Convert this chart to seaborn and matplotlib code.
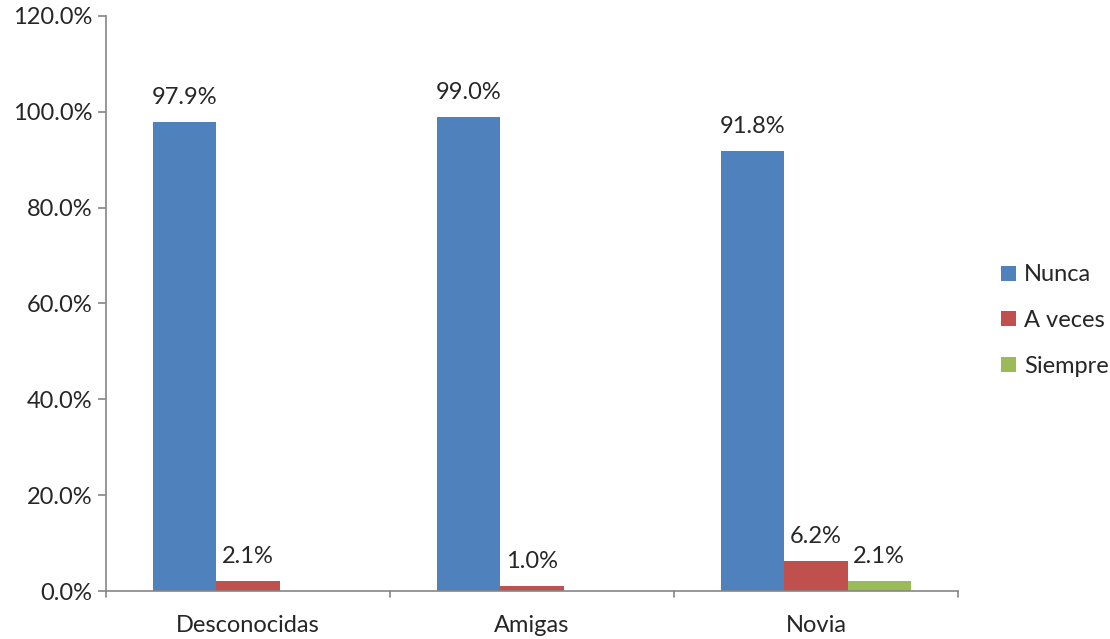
import numpy as np
import pandas as pd
import matplotlib
matplotlib.use('Agg')
import matplotlib.pyplot as plt
import seaborn as sns

# data
categories = ['Desconocidas', 'Amigas', 'Novia']
series = ['Nunca', 'A veces', 'Siempre']
nunca = [97.9, 99.0, 91.8]
a_veces = [2.1, 1.0, 6.2]
siempre = [0.0, 0.0, 2.1]
colors = ['#4F81BD', '#C0504D', '#9BBB59']
yticks = [0, 20, 40, 60, 80, 100, 120]

df = pd.DataFrame({
	'categoria': categories * 3,
	'serie': [s for s in series for _ in categories],
	'valor': nunca + a_veces + siempre,
})

sns.set_style('white')
plt.rcParams['font.family'] = ['Lato', 'DejaVu Sans']

fig = plt.figure(figsize=(11.1, 6.39), dpi=100)
ax = fig.add_axes([0.0955, 0.0751, 0.7675, 0.8999])

sns.barplot(data=df, x='categoria', y='valor', hue='serie', order=categories,
			hue_order=series, palette=colors, width=0.667, saturation=1,
			linewidth=0, ax=ax)

# data labels, skip empty bars
for cont in ax.containers:
	labels = ['%.1f%%' % v if v > 0 else '' for v in cont.datavalues]
	ax.bar_label(cont, labels=labels, padding=10, fontsize=17)

ax.set_ylim(0, 120)
ax.set_xlim(-0.5, 2.5)
ax.set_yticks(yticks)
ax.set_yticklabels(['%.1f%%' % t for t in yticks], fontsize=17)
ax.tick_params(axis='x', labelsize=17, length=0, pad=17)
ax.tick_params(axis='y', length=6, width=1.2, color='#868686', left=True, pad=4)
ax.set_xlabel('')
ax.set_ylabel('')

# category boundary ticks under the axis
for xb in [-0.5, 0.5, 1.5, 2.5]:
	ax.plot([xb, xb], [0, -1.2], color='#868686', lw=1.2, clip_on=False)

for side in ['top', 'right']:
	ax.spines[side].set_visible(False)
for side in ['left', 'bottom']:
	ax.spines[side].set_color('#868686')
	ax.spines[side].set_linewidth(1.2)

ax.legend(loc='center left', bbox_to_anchor=(1.04, 0.47), frameon=False,
		  fontsize=17, handlelength=0.6, handleheight=0.6, handletextpad=0.35,
		  labelspacing=1.05, borderaxespad=0)

plt.savefig('out.png', dpi=100)
